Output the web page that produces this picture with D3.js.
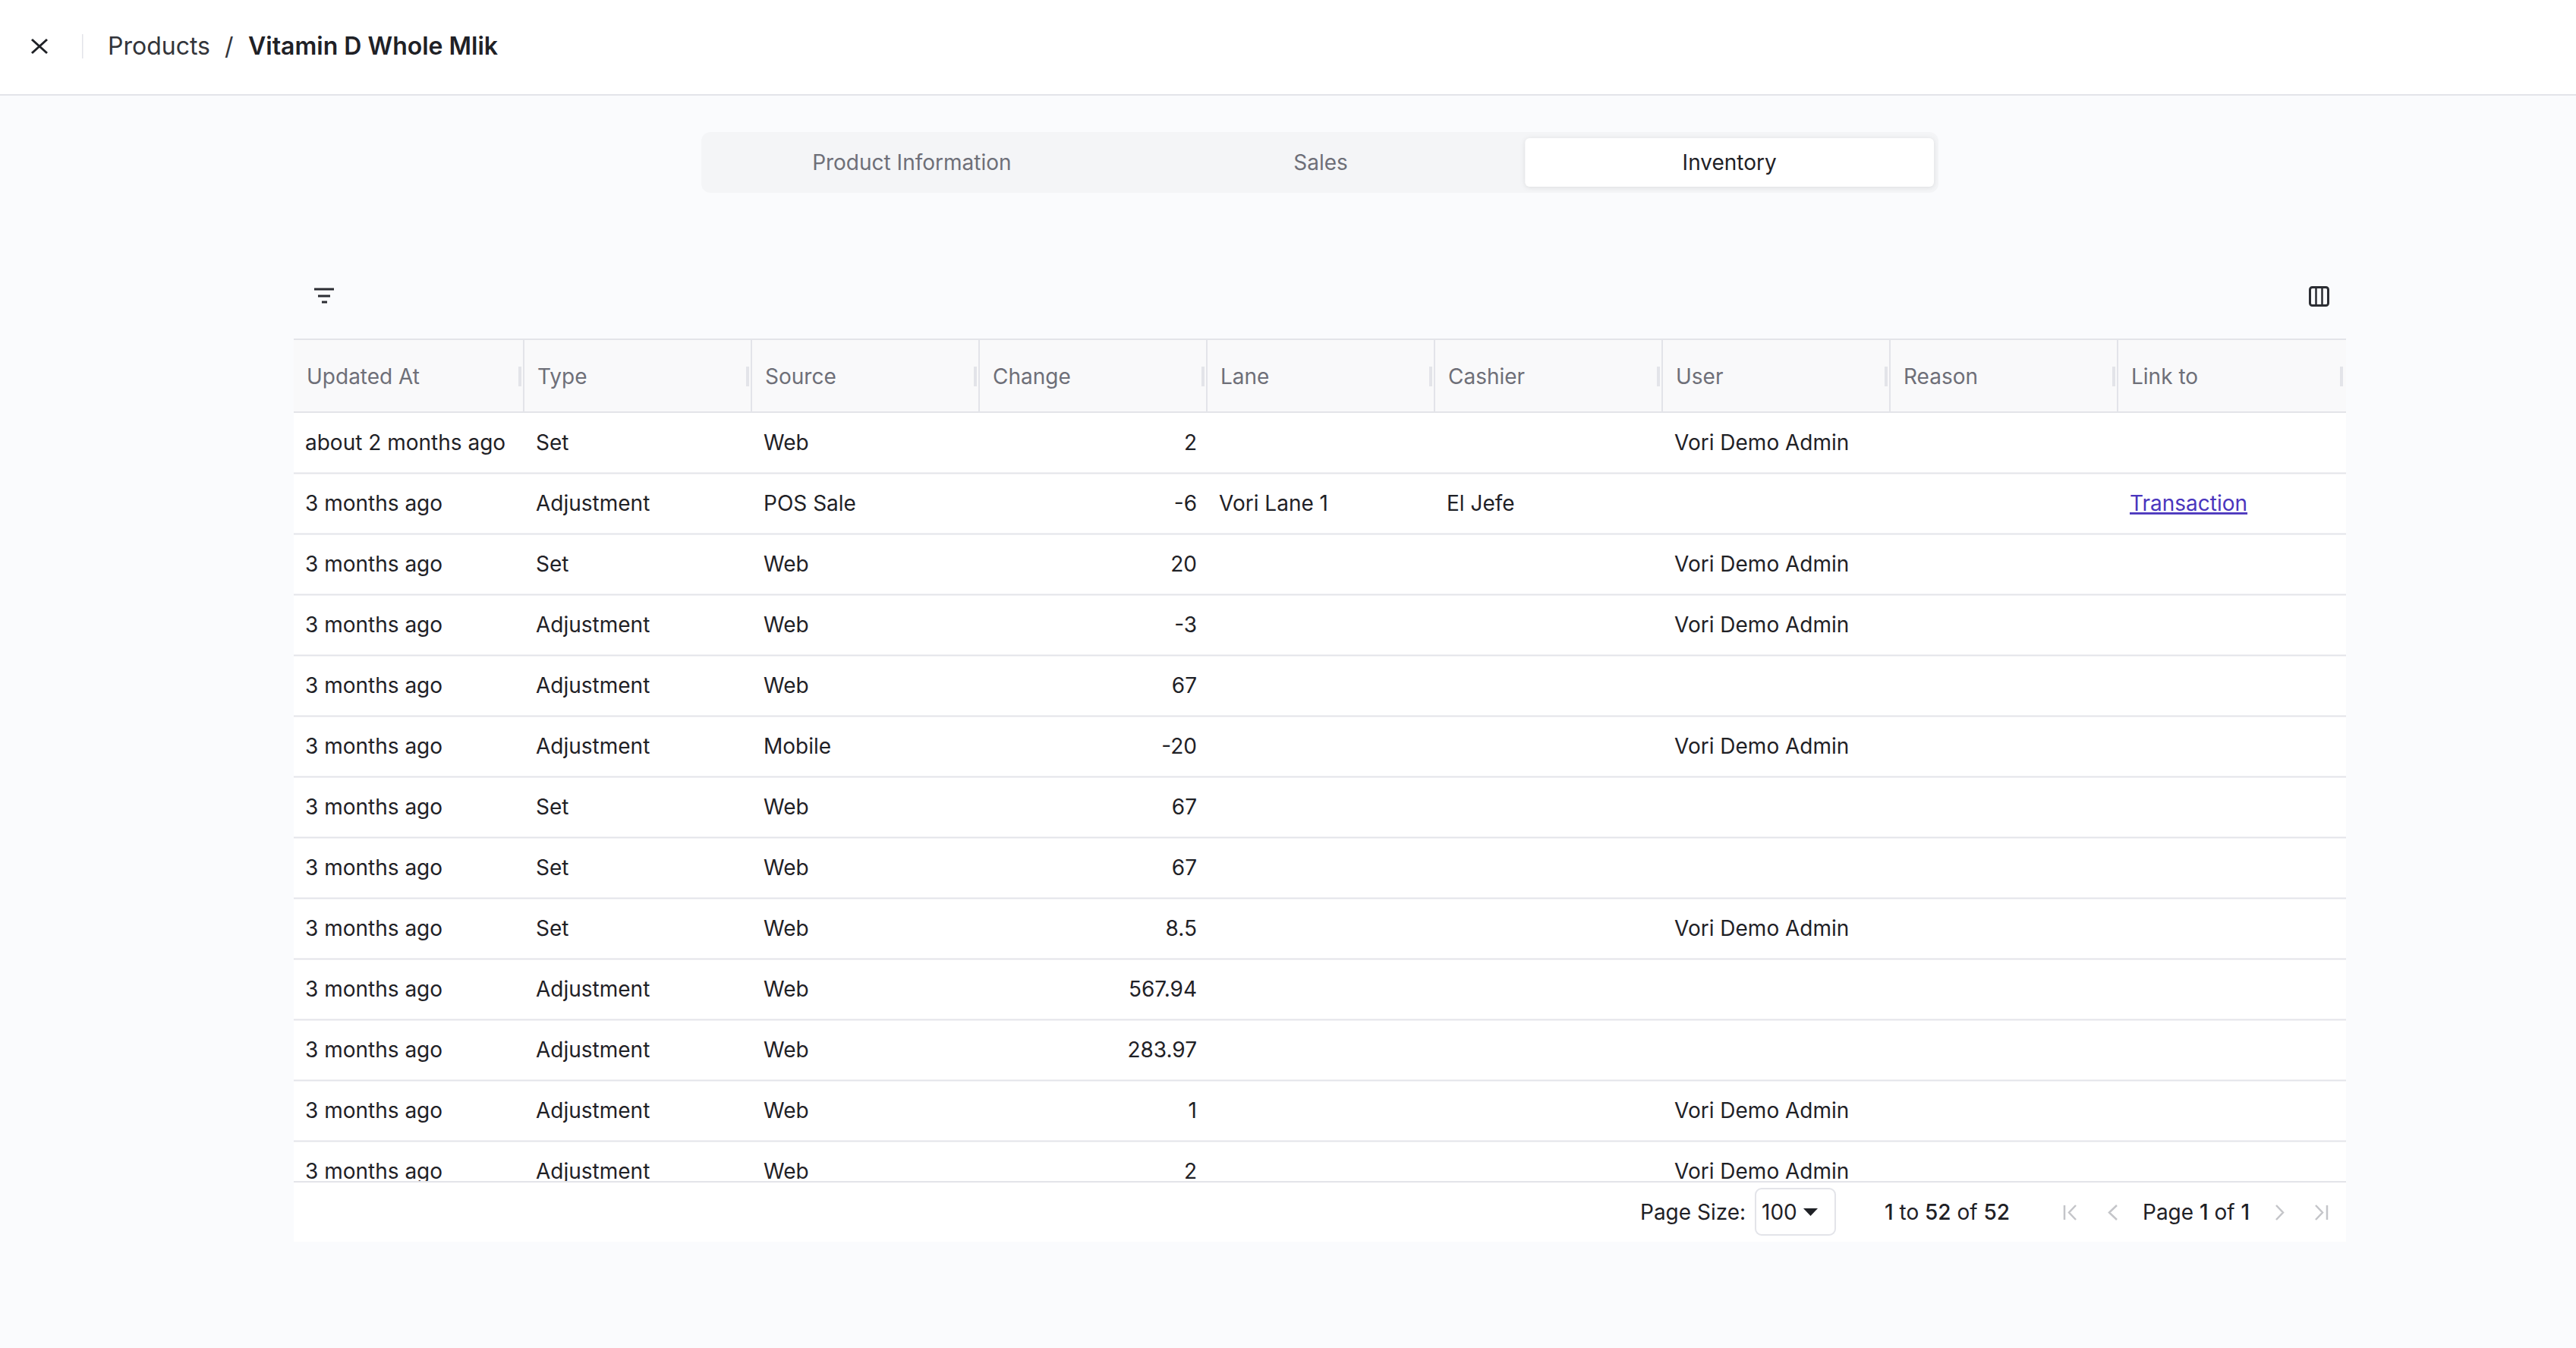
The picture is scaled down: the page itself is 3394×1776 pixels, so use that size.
<!DOCTYPE html>
<html>
<head>
<meta charset="utf-8">
<script src="https://cdn.jsdelivr.net/npm/d3@7"></script>
<style>
  html, body { margin: 0; padding: 0; background: #fafbfd; }
  svg { display: block; font-family: Inter, "Noto Sans", sans-serif; }
</style>
</head>
<body>
<div id="chart"></div>
<script>
const columns = ["Updated At", "Type", "Source", "Change", "Lane", "Cashier", "User", "Reason", "Link to"];
const updatedAt = ["about 2 months ago", "3 months ago", "3 months ago", "3 months ago", "3 months ago", "3 months ago", "3 months ago", "3 months ago", "3 months ago", "3 months ago", "3 months ago", "3 months ago", "3 months ago"];
const types = ["Set", "Adjustment", "Set", "Adjustment", "Adjustment", "Adjustment", "Set", "Set", "Set", "Adjustment", "Adjustment", "Adjustment", "Adjustment"];
const sources = ["Web", "POS Sale", "Web", "Web", "Web", "Mobile", "Web", "Web", "Web", "Web", "Web", "Web", "Web"];
const changes = [2, -6, 20, -3, 67, -20, 67, 67, 8.5, 567.94, 283.97, 1, 2];
const lanes = ["", "Vori Lane 1", "", "", "", "", "", "", "", "", "", "", ""];
const cashiers = ["", "El Jefe", "", "", "", "", "", "", "", "", "", "", ""];
const users = ["Vori Demo Admin", "", "Vori Demo Admin", "Vori Demo Admin", "", "Vori Demo Admin", "", "", "Vori Demo Admin", "", "", "Vori Demo Admin", "Vori Demo Admin"];
const reasons = ["", "", "", "", "", "", "", "", "", "", "", "", ""];
const links = ["", "Transaction", "", "", "", "", "", "", "", "", "", "", ""];
const tabs = ["Product Information", "Sales", "Inventory"];

const width = 3394, height = 1776;
const ink = "#1f2126", muted = "#6e6f78", line = "#e3e4e9";

const svg = d3.select("#chart").append("svg").attr("width", width).attr("height", height);
svg.append("rect").attr("width", width).attr("height", height).attr("fill", "#fafbfd");

// top bar
svg.append("rect").attr("width", width).attr("height", 124).attr("fill", "#fff");
svg.append("rect").attr("y", 124).attr("width", width).attr("height", 2).attr("fill", line);
svg.append("path").attr("d", "M42 52L62 70M62 52L42 70").attr("stroke", ink).attr("stroke-width", 3).attr("fill", "none");
svg.append("rect").attr("x", 108).attr("y", 45).attr("width", 1.5).attr("height", 32).attr("fill", line);
svg.append("text").attr("x", 142).attr("y", 72).attr("font-size", 32).attr("fill", "#33353a").text("Products");
svg.append("text").attr("x", 296).attr("y", 72).attr("font-size", 32).attr("fill", "#33353a").text("/");
svg.append("text").attr("x", 327).attr("y", 72).attr("font-size", 32).attr("font-weight", 600).attr("fill", ink).text("Vitamin D Whole Mlik");

// tabs
const tabX = d3.scaleBand().domain(tabs).range([932, 2548]);
svg.append("rect").attr("x", 924).attr("y", 174).attr("width", 1630).attr("height", 80).attr("rx", 12).attr("fill", "#f4f5f7");
svg.append("rect").attr("x", tabX("Inventory")).attr("y", 182).attr("width", tabX.bandwidth()).attr("height", 64).attr("rx", 6)
  .attr("fill", "#fff").style("filter", "drop-shadow(0 1px 3px rgba(0,0,0,0.10))");
svg.selectAll(".tab").data(tabs).join("text").attr("class", "tab")
  .attr("x", d => tabX(d) + tabX.bandwidth() / 2).attr("y", 224).attr("text-anchor", "middle").attr("font-size", 28)
  .attr("font-weight", 500 - 100).attr("fill", d => d === "Inventory" ? ink : muted).text(d => d);

// toolbar icons
svg.append("path").attr("d", "M414 381H440M419 390H435M424 398H431").attr("stroke", "#2b2d33").attr("stroke-width", 3).attr("fill", "none");
svg.append("rect").attr("x", 3043.5).attr("y", 378.5).attr("width", 24).attr("height", 24).attr("rx", 3).attr("fill", "none").attr("stroke", "#2b2d33").attr("stroke-width", 3);
svg.append("path").attr("d", "M3051.5 378V403M3059.5 378V403").attr("stroke", "#2b2d33").attr("stroke-width", 2.5);

// table
const x = d3.scaleBand().domain(columns).range([390, 3090]);
const rowIds = d3.range(updatedAt.length);
const y = d3.scaleBand().domain(rowIds).range([544, 544 + 80 * rowIds.length]);
const tableLeft = 387, tableRight = 3091;

svg.append("rect").attr("x", tableLeft).attr("y", 446).attr("width", tableRight - tableLeft).attr("height", 98).attr("fill", "#f9f9fa");
svg.append("rect").attr("x", tableLeft).attr("y", 544).attr("width", tableRight - tableLeft).attr("height", 1014).attr("fill", "#fff");
svg.append("rect").attr("x", tableLeft).attr("y", 446).attr("width", tableRight - tableLeft).attr("height", 2).attr("fill", line);
svg.append("rect").attr("x", tableLeft).attr("y", 542).attr("width", tableRight - tableLeft).attr("height", 2).attr("fill", line);

// header cells
const head = svg.append("g");
head.selectAll("rect.sep").data(columns.slice(1)).join("rect").attr("class", "sep")
  .attr("x", d => x(d) - 1).attr("y", 448).attr("width", 2).attr("height", 94).attr("fill", line);
head.selectAll("rect.grip").data(columns).join("rect").attr("class", "grip")
  .attr("x", d => x(d) + x.bandwidth() - 7).attr("y", 483).attr("width", 4).attr("height", 26).attr("fill", line);
head.selectAll("text").data(columns).join("text")
  .attr("x", d => x(d) + 14 + (d === "Updated At" ? 0 : 4)).attr("y", 506).attr("font-size", 28).attr("fill", muted).text(d => d);

// row borders
svg.selectAll("rect.rowline").data(rowIds).join("rect").attr("class", "rowline")
  .attr("x", tableLeft).attr("y", d => y(d) + 78.5).attr("width", tableRight - tableLeft).attr("height", 2).attr("fill", line);

// body cells, one column at a time
const leftCols = [
  ["Updated At", updatedAt, 12], ["Type", types, 16], ["Source", sources, 16], ["Lane", lanes, 16],
  ["Cashier", cashiers, 16], ["User", users, 16], ["Reason", reasons, 16]
];
leftCols.forEach(([name, values, pad]) => {
  svg.append("g").selectAll("text").data(values).join("text")
    .attr("x", x(name) + pad).attr("y", (d, i) => y(i) + 49).attr("font-size", 28).attr("fill", ink).text(d => d);
});
svg.append("g").selectAll("text").data(changes).join("text")
  .attr("x", x("Change") + x.bandwidth() - 13).attr("y", (d, i) => y(i) + 49).attr("text-anchor", "end")
  .attr("font-size", 28).attr("fill", ink).text(d => String(d));
svg.append("g").selectAll("text").data(links).join("text")
  .attr("x", x("Link to") + 16).attr("y", (d, i) => y(i) + 49).attr("font-size", 28).attr("fill", "#4a35bd")
  .attr("text-decoration", "underline").text(d => d);

// footer
svg.append("rect").attr("x", tableLeft).attr("y", 1558).attr("width", tableRight - tableLeft).attr("height", 78).attr("fill", "#fff");
svg.append("rect").attr("x", tableLeft).attr("y", 1556).attr("width", tableRight - tableLeft).attr("height", 2).attr("fill", line);
svg.append("text").attr("x", 2161).attr("y", 1607).attr("font-size", 28).attr("fill", ink).text("Page Size:");
svg.append("rect").attr("x", 2313).attr("y", 1566).attr("width", 105).attr("height", 61).attr("rx", 8).attr("fill", "#fff").attr("stroke", line).attr("stroke-width", 2);
svg.append("text").attr("x", 2321).attr("y", 1607).attr("font-size", 28).attr("fill", ink).text("100");
svg.append("path").attr("d", "M2376 1592H2395L2385.5 1602Z").attr("fill", ink);
const rangeText = svg.append("text").attr("x", 2483).attr("y", 1607).attr("font-size", 28).attr("fill", ink);
[["1", 500], [" to ", 400], ["52", 500], [" of ", 400], ["52", 500]].forEach(([t, w]) => rangeText.append("tspan").attr("font-weight", w).text(t));
const pageText = svg.append("text").attr("x", 2823).attr("y", 1607).attr("font-size", 28).attr("fill", ink);
[["Page ", 400], ["1", 500], [" of ", 400], ["1", 500]].forEach(([t, w]) => pageText.append("tspan").attr("font-weight", w).text(t));
svg.append("path")
  .attr("d", "M2720 1588V1607M2735 1588L2726 1597.5L2735 1607M2789 1588L2779 1597.5L2789 1607M2999 1588L3008 1597.5L2999 1607M3051 1588L3060 1597.5L3051 1607M3066 1588V1607")
  .attr("stroke", "#c4c5c9").attr("stroke-width", 2.5).attr("fill", "none");
</script>
</body>
</html>
